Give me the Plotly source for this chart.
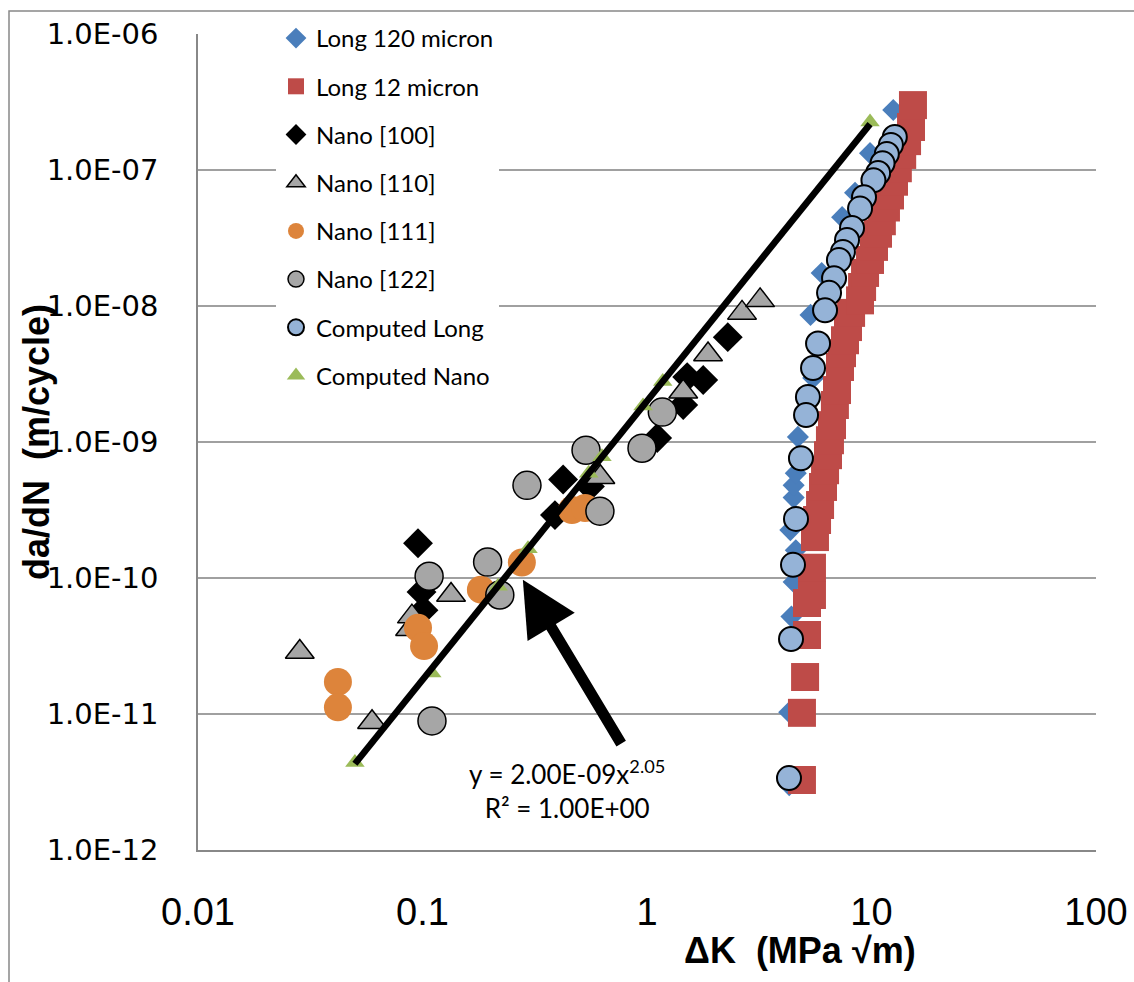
import plotly.graph_objects as go

# ---------------- data ----------------
long120_dk = [4.3, 4.3, 4.35, 4.4, 4.5, 4.6, 4.35, 4.5, 4.5, 4.6, 4.7, 5.5, 5.35, 6.0, 7.4, 8.45, 9.85, 12.5]
long120_dadn = [3.0e-12, 1.03e-11, 3.5e-11, 5.2e-11, 9.35e-11, 1.6e-10, 2.25e-10, 3.9e-10, 4.8e-10,
                5.9e-10, 1.09e-9, 2.96e-9, 8.6e-9, 1.75e-8, 4.5e-8, 6.8e-8, 1.33e-7, 2.76e-7]

long12_dk = [4.90, 4.90, 5.06, 5.16, 5.16, 5.43, 5.43, 5.60, 5.72, 5.90, 6.08, 6.21, 6.40, 6.53, 6.67,
             6.87, 7.02, 7.24, 7.39, 7.62, 7.86, 8.11, 8.89, 9.08, 9.36, 9.85, 10.26, 10.69, 11.12,
             11.6, 12.09, 12.6, 13.1, 13.7, 14.4, 15.0, 15.3]
long12_dadn = [3.27e-12, 1.02e-11, 1.87e-11, 3.81e-11, 6.55e-11, 7.5e-11, 1.19e-10, 2.0e-10, 2.67e-10,
               3.44e-10, 4.67e-10, 6.2e-10, 8.0e-10, 1.03e-9, 1.33e-9, 1.87e-9, 2.41e-9, 3.56e-9,
               4.5e-9, 5.6e-9, 7.0e-9, 8.9e-9, 1.1e-8, 1.38e-8, 1.75e-8, 2.18e-8, 2.72e-8, 3.4e-8,
               4.2e-8, 5.3e-8, 6.5e-8, 8.2e-8, 1.03e-7, 1.29e-7, 1.63e-7, 2.07e-7, 3.0e-7]

nano100_dk = [0.0955, 0.099, 0.101, 0.389, 0.423, 0.557, 1.11, 1.45, 1.51, 1.78, 2.29]
nano100_dadn = [1.8e-10, 7.9e-11, 5.8e-11, 2.9e-10, 5.3e-10, 4.7e-10, 1.07e-9, 1.87e-9, 3.0e-9, 2.86e-9, 5.9e-9]

nano110_dk = [0.0284, 0.0596, 0.088, 0.0897, 0.134, 0.62, 1.45, 1.87, 2.65, 3.19]
nano110_dadn = [2.86e-11, 8.7e-12, 4.2e-11, 5.2e-11, 7.5e-11, 5.5e-10, 2.34e-9, 4.4e-9, 8.9e-9, 1.1e-8]

nano111_dk = [0.042, 0.042, 0.0955, 0.1016, 0.182, 0.277, 0.463, 0.53]
nano111_dadn = [1.72e-11, 1.12e-11, 4.3e-11, 3.16e-11, 8.2e-11, 1.3e-10, 3.16e-10, 3.27e-10]

nano122_dk = [0.1102, 0.107, 0.195, 0.221, 0.292, 0.535, 0.617, 0.95, 1.17]
nano122_dadn = [8.9e-12, 1.03e-10, 1.31e-10, 7.5e-11, 4.8e-10, 8.7e-10, 3.1e-10, 9.0e-10, 1.66e-9]

comp_long_dk = [12.7, 12.2, 11.7, 11.2, 10.7, 10.2, 9.26, 8.89, 8.19, 7.78, 7.46, 7.16, 6.81, 6.47,
                6.21, 5.78, 5.49, 5.21, 5.11, 4.85, 4.61, 4.47, 4.38, 4.29]
comp_long_dadn = [1.75e-7, 1.53e-7, 1.31e-7, 1.12e-7, 9.5e-8, 8.4e-8, 6.3e-8, 5.2e-8, 3.75e-8, 3.06e-8,
                  2.5e-8, 2.18e-8, 1.6e-8, 1.25e-8, 9.3e-9, 5.3e-9, 3.5e-9, 2.14e-9, 1.58e-9, 7.6e-10,
                  2.72e-10, 1.25e-10, 3.56e-11, 3.38e-12]

comp_nano_dk = [0.05, 0.11, 0.217, 0.295, 0.55, 0.63, 0.96, 1.175, 9.85]
comp_nano_dadn = [4.4e-12, 2.0e-11, 8.7e-11, 1.64e-10, 5.9e-10, 7.8e-10, 1.84e-9, 2.78e-9, 2.25e-7]

# power-law trendline of Computed Nano (as printed on the chart)
trend_a = 2.00e-9
trend_b = 2.05
trend_label = "y = 2.00E-09x<sup>2.05</sup><br>R² = 1.00E+00"

y_tickvals = [1e-12, 1e-11, 1e-10, 1e-9, 1e-8, 1e-7, 1e-6]
y_ticktext = ["1.0E-12", "1.0E-11", "1.0E-10", "1.0E-09", "1.0E-08", "1.0E-07", "1.0E-06"]
x_tickvals = [0.01, 0.1, 1, 10, 100]
x_ticktext = ["0.01", "0.1", "1", "10", "100"]

# ---------------- figure ----------------
fig = go.Figure()

def add(name, x, y, symbol, size, color, lc=None, lw=0):
    fig.add_trace(go.Scatter(
        x=x, y=y, mode="markers", name=name, legendgroup=name,
        marker=dict(symbol=symbol, size=size, color=color,
                    line=dict(color=lc if lc else color, width=lw)),
    ))

add("Long 120 micron", long120_dk, long120_dadn, "diamond", 17, "#4A7EBB")
add("Long 12 micron", long12_dk, long12_dadn, "square", 28, "#BE4B48")
add("Nano [100]", nano100_dk, nano100_dadn, "diamond", 23, "#000000")
add("Nano [110]", nano110_dk, nano110_dadn, "triangle-up", 25, "#A6A6A6", "#000000", 1.5)
add("Nano [111]", nano111_dk, nano111_dadn, "circle", 28, "#DD843B")
add("Nano [122]", nano122_dk, nano122_dadn, "circle", 28, "#A6A6A6", "#000000", 1.5)
add("Computed Long", comp_long_dk, comp_long_dadn, "circle", 24, "#95B3D7", "#000000", 2)
add("Computed Nano", comp_nano_dk, comp_nano_dadn, "triangle-up", 17, "#9BBB59")

tx = [min(comp_nano_dk), max(comp_nano_dk)]
ty = [trend_a * v ** trend_b for v in tx]
fig.add_trace(go.Scatter(x=tx, y=ty, mode="lines", showlegend=False,
                         line=dict(color="#000000", width=6.5)))

fig.update_xaxes(type="log", range=[-2, 2], tickvals=x_tickvals, ticktext=x_ticktext,
                 showgrid=False, zeroline=False, showline=True, linecolor="#888888", linewidth=1.5,
                 ticks="", ticklabelstandoff=28,
                 tickfont=dict(family="Liberation Sans, Arial", size=38, color="#000000"))
fig.update_yaxes(type="log", range=[-12, -6], tickvals=y_tickvals, ticktext=y_ticktext,
                 showgrid=True, gridcolor="#A0A0A0", gridwidth=1.5, zeroline=False,
                 showline=True, linecolor="#888888", linewidth=1.5,
                 ticks="", ticklabelstandoff=32,
                 tickfont=dict(family="DejaVu Sans", size=29, color="#000000"))

W, H = 1134, 982
L, R, T, B = 198, 38, 34, 132
pw, ph = W - L - R, H - T - B

def px(xp):
    return (xp - L) / pw

def py(yp):
    return (H - B - yp) / ph

annotations = [
    dict(text="da/dN  (m/cycle)", xref="paper", yref="paper", x=px(36), y=py(442),
         textangle=-90, showarrow=False, xanchor="center", yanchor="middle",
         font=dict(family="Liberation Sans, Arial", size=36, color="#000000", weight="bold")),
    dict(text="ΔK  (MPa √m)", xref="paper", yref="paper", x=px(800), y=py(950),
         showarrow=False, xanchor="center", yanchor="middle",
         font=dict(family="Liberation Sans, Arial", size=36, color="#000000", weight="bold")),
    dict(text=trend_label, xref="paper", yref="paper", x=px(567), y=py(789),
         showarrow=False, xanchor="center", yanchor="middle", align="center",
         font=dict(family="Lato, Noto Sans", size=26, color="#000000")),
    dict(text="", xref="x", yref="y", axref="x", ayref="y",
         x=-0.553, y=-10.013, ax=-0.111, ay=-11.229,
         showarrow=True, arrowhead=2, arrowsize=1.0, arrowwidth=11, arrowcolor="#000000"),
]

fig.update_layout(
    width=W, height=H,
    margin=dict(l=L, r=R, t=T, b=B, autoexpand=False),
    plot_bgcolor="#FFFFFF", paper_bgcolor="#FFFFFF",
    showlegend=True,
    legend=dict(x=px(276), y=py(16), xanchor="left", yanchor="top",
                bgcolor="#FFFFFF", borderwidth=0, tracegroupgap=14,
                font=dict(family="Lato, Noto Sans", size=24, color="#000000")),
    annotations=annotations,
    shapes=[dict(type="rect", xref="paper", yref="paper",
                 x0=px(9), x1=px(1150), y0=py(1000), y1=py(11),
                 line=dict(color="#888888", width=1.5), fillcolor="rgba(0,0,0,0)", layer="below")],
)

fig.write_html("out.html")
